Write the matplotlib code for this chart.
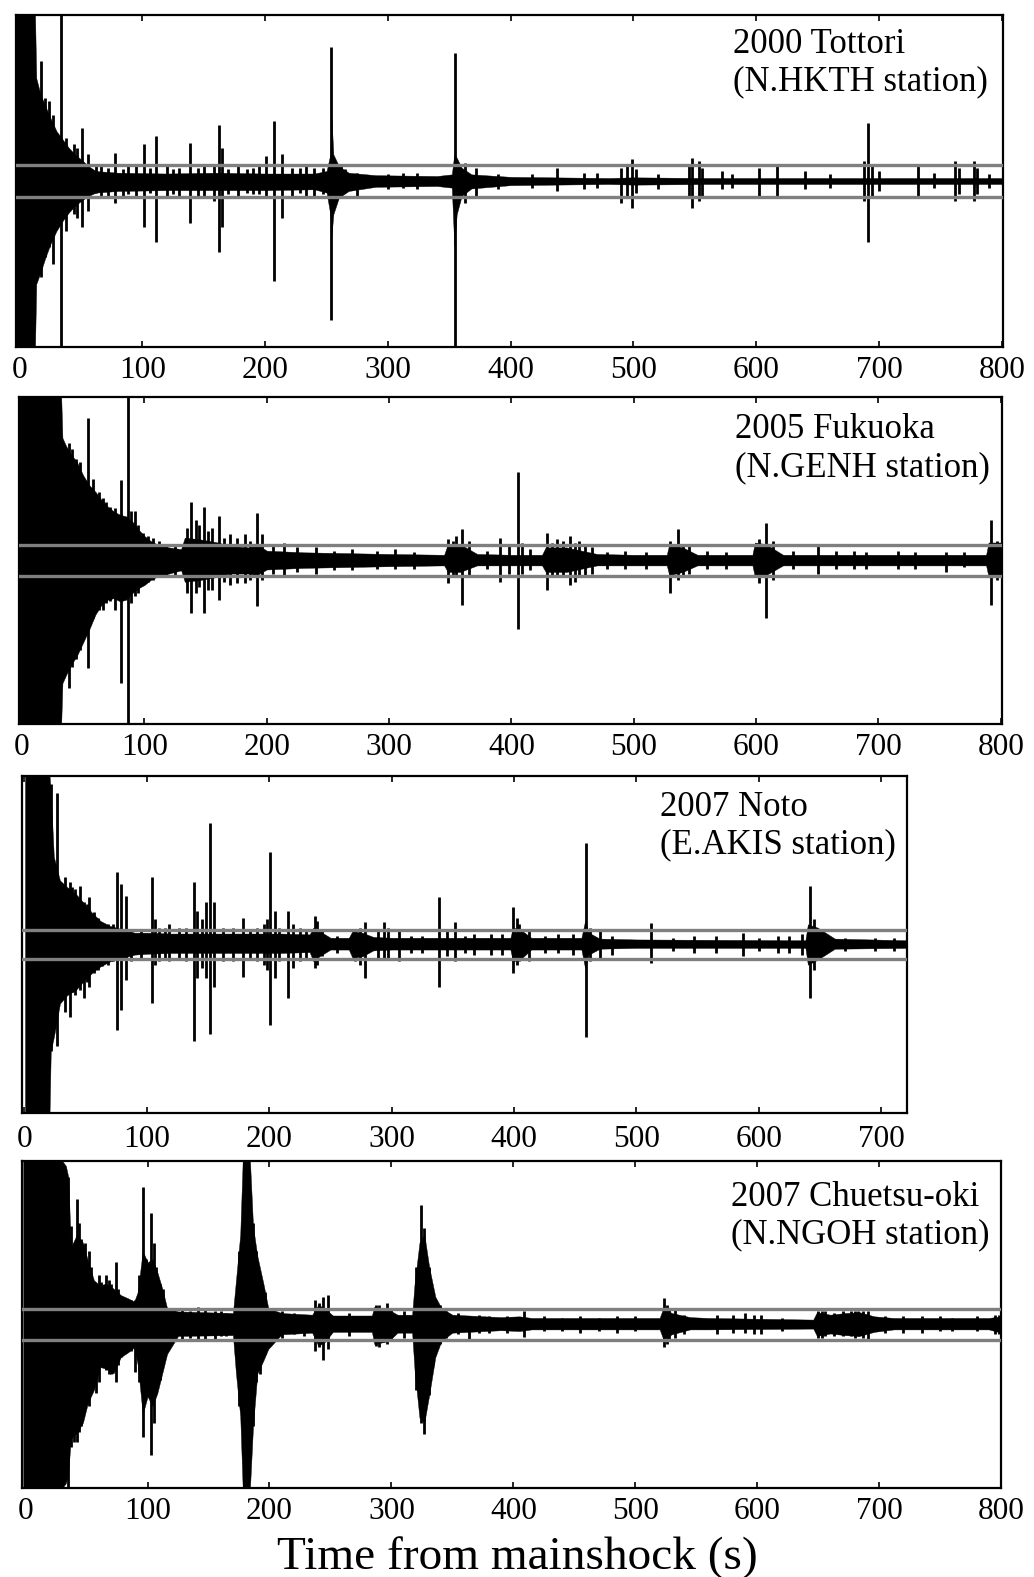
import matplotlib
matplotlib.use('Agg')
import matplotlib.pyplot as plt

plt.rcParams['font.family'] = ['Liberation Serif', 'DejaVu Serif']

# amplitudes are given as a fraction of each panel's half-height

# --- 2000 Tottori (N.HKTH) ---
tottori_env_t = [-3, 12.5, 13.5, 17, 21, 25, 30, 35, 40, 45, 50, 56, 62, 80, 120, 160, 200, 240, 250, 253,
                 254, 255.5, 260, 268, 290, 340, 352, 354, 356, 360, 368, 400, 480, 500, 560, 801]
tottori_env_top = [1, 1, 0.62, 0.52, 0.45, 0.38, 0.3, 0.25, 0.2, 0.16, 0.13, 0.09, 0.06, 0.05, 0.045, 0.05,
                   0.045, 0.045, 0.06, 0.16, 0.38, 0.16, 0.09, 0.05, 0.035, 0.03, 0.04, 0.16, 0.14, 0.08, 0.04,
                   0.025, 0.018, 0.022, 0.018, 0.018]
tottori_env_bot = [-1, -1, -0.62, -0.55, -0.46, -0.38, -0.3, -0.24, -0.19, -0.15, -0.12, -0.09, -0.07, -0.06,
                   -0.055, -0.055, -0.055, -0.05, -0.07, -0.2, -0.33, -0.2, -0.1, -0.06, -0.035, -0.03, -0.04,
                   -0.39, -0.2, -0.09, -0.045, -0.025, -0.018, -0.022, -0.018, -0.018]
tottori_spk_t = [17, 21, 24, 27, 34, 38, 44, 47, 51, 56, 66, 72, 78, 88, 95, 101, 111, 120, 130, 139,
                 150, 158, 162, 165, 178, 190, 201, 207, 214, 222, 233, 247, 254, 258, 262, 275, 312, 324, 355, 363,
                 372, 417, 438, 460, 490, 499, 548, 553, 572, 602, 617, 640, 691, 732, 762, 777,
                 62, 84, 106, 125, 145, 170, 185, 195, 228, 240, 265, 300, 390, 470, 520, 580, 660, 700, 745, 790,
                 495, 502, 545, 556, 688, 694, 765, 780]
tottori_spk_top = [0.72, 0.5, 0.48, 0.4, 1.0, 0.26, 0.22, 0.2, 0.32, 0.16, 0.1, 0.08, 0.17, 0.1, 0.09, 0.22, 0.27,
                   0.09, 0.08, 0.23, 0.1, 0.09, 0.34, 0.2, 0.09, 0.08, 0.15, 0.36, 0.16, 0.08, 0.1, 0.08, 0.81,
                   0.08, 0.09, 0.05, 0.05, 0.05, 0.77, 0.11, 0.08, 0.04, 0.08, 0.05, 0.08, 0.13, 0.14, 0.12, 0.06,
                   0.08, 0.09, 0.06, 0.35, 0.09, 0.12, 0.12,
                   0.09, 0.07, 0.08, 0.07, 0.08, 0.07, 0.07, 0.09, 0.08, 0.08, 0.07, 0.04, 0.04, 0.05, 0.04, 0.04,
                   0.04, 0.06, 0.05, 0.04,
                   0.1, 0.07, 0.09, 0.08, 0.12, 0.1, 0.08, 0.08]
tottori_spk_bot = [-0.58, -0.46, -0.4, -0.5, -1.0, -0.3, -0.2, -0.22, -0.28, -0.18, -0.09, -0.1, -0.13, -0.08,
                   -0.1, -0.28, -0.37, -0.1, -0.09, -0.25, -0.1, -0.12, -0.43, -0.28, -0.1, -0.08, -0.1, -0.6,
                   -0.22, -0.09, -0.1, -0.08, -0.84, -0.1, -0.1, -0.1, -0.04, -0.05, -1.0, -0.13, -0.1, -0.04,
                   -0.06, -0.05, -0.13, -0.16, -0.16, -0.12, -0.05, -0.09, -0.09, -0.05, -0.37, -0.09, -0.12, -0.12,
                   -0.07, -0.09, -0.07, -0.08, -0.09, -0.08, -0.07, -0.08, -0.07, -0.09, -0.06, -0.05, -0.05,
                   -0.04, -0.05, -0.04, -0.04, -0.06, -0.04, -0.04,
                   -0.1, -0.07, -0.1, -0.09, -0.12, -0.1, -0.08, -0.08]

# --- 2005 Fukuoka (N.GENH) ---
fukuoka_env_t = [-3, 32, 33, 36, 40, 45, 50, 55, 60, 65, 70, 75, 80, 85, 90, 95, 100, 105, 110, 120,
                 130, 133, 145, 160, 170, 185, 192, 200, 230, 300, 345, 348, 358, 372, 400, 425, 428, 445, 470, 500,
                 527, 529, 540, 552, 597, 599, 608, 622, 700, 788, 790, 801]
fukuoka_env_top = [1, 1, 0.75, 0.7, 0.65, 0.6, 0.52, 0.46, 0.42, 0.37, 0.33, 0.3, 0.28, 0.27, 0.24, 0.19, 0.15,
                   0.12, 0.1, 0.08, 0.07, 0.14, 0.13, 0.11, 0.09, 0.08, 0.1, 0.06, 0.05, 0.04, 0.035, 0.1, 0.1,
                   0.04, 0.035, 0.035, 0.08, 0.08, 0.04, 0.035, 0.035, 0.1, 0.08, 0.035, 0.035, 0.11, 0.1, 0.035,
                   0.035, 0.035, 0.11, 0.11]
fukuoka_env_bot = [-1, -1, -0.75, -0.7, -0.64, -0.58, -0.5, -0.42, -0.33, -0.27, -0.24, -0.23, -0.25, -0.24,
                   -0.2, -0.17, -0.15, -0.12, -0.1, -0.08, -0.06, -0.13, -0.12, -0.1, -0.08, -0.08, -0.09, -0.055,
                   -0.045, -0.035, -0.03, -0.07, -0.07, -0.03, -0.03, -0.03, -0.07, -0.07, -0.03, -0.03, -0.03,
                   -0.09, -0.07, -0.03, -0.03, -0.1, -0.09, -0.03, -0.03, -0.03, -0.1, -0.1]
fukuoka_spk_t = [38, 44, 54, 58, 66, 72, 81, 86.5, 92, 99, 107, 112, 138, 142, 149, 155, 161, 170, 176, 182,
                 192, 196, 214, 240, 270, 305, 348, 355, 360, 391, 405, 409, 429, 437, 448, 455, 466, 493, 530, 536,
                 545, 608, 614, 651, 680, 716, 755, 792, 797,
                 41, 47, 63, 69, 76, 89, 95, 103, 118, 125, 135, 145, 152, 165, 186, 205, 225, 255, 290, 320,
                 352, 365, 380, 398, 415, 433, 442, 452, 460, 478, 510, 540, 560, 575, 602, 630, 665, 690, 730, 770]
fukuoka_spk_top = [0.72, 0.62, 0.87, 0.5, 0.38, 0.33, 0.49, 1.0, 0.3, 0.17, 0.14, 0.12, 0.36, 0.25, 0.33, 0.2,
                   0.27, 0.16, 0.14, 0.16, 0.29, 0.16, 0.11, 0.08, 0.07, 0.07, 0.13, 0.15, 0.19, 0.14, 0.54, 0.11,
                   0.17, 0.13, 0.15, 0.12, 0.08, 0.06, 0.12, 0.19, 0.1, 0.23, 0.12, 0.09, 0.06, 0.06, 0.05, 0.25,
                   0.12,
                   0.68, 0.6, 0.42, 0.36, 0.32, 0.3, 0.22, 0.15, 0.1, 0.09, 0.2, 0.22, 0.18, 0.14, 0.12, 0.09,
                   0.08, 0.06, 0.06, 0.05, 0.12, 0.12, 0.06, 0.1, 0.07, 0.11, 0.12, 0.11, 0.1, 0.05, 0.05, 0.1,
                   0.06, 0.05, 0.13, 0.06, 0.06, 0.05, 0.05, 0.05]
fukuoka_spk_bot = [-0.78, -0.6, -0.66, -0.35, -0.3, -0.25, -0.75, -1.0, -0.22, -0.15, -0.12, -0.1, -0.32, -0.2,
                   -0.32, -0.18, -0.24, -0.15, -0.14, -0.14, -0.28, -0.12, -0.1, -0.08, -0.06, -0.05, -0.14, -0.1,
                   -0.27, -0.13, -0.42, -0.08, -0.18, -0.1, -0.15, -0.1, -0.08, -0.05, -0.2, -0.12, -0.08, -0.35,
                   -0.12, -0.08, -0.05, -0.05, -0.07, -0.27, -0.12,
                   -0.65, -0.55, -0.3, -0.26, -0.3, -0.26, -0.2, -0.13, -0.1, -0.09, -0.2, -0.16, -0.18, -0.13,
                   -0.12, -0.08, -0.07, -0.06, -0.05, -0.05, -0.1, -0.09, -0.05, -0.08, -0.06, -0.1, -0.09, -0.13,
                   -0.09, -0.05, -0.05, -0.1, -0.05, -0.05, -0.14, -0.05, -0.05, -0.05, -0.05, -0.04]

# --- 2007 Noto (E.AKIS) ---
noto_env_t = [0.5, 20.5, 21.5, 24, 29, 35, 42, 48, 55, 62, 70, 80, 90, 100, 120, 150, 180, 210, 233, 236,
              241, 250, 265, 268, 276, 285, 300, 340, 397, 399, 405, 414, 455, 458, 461, 470, 500, 638, 640, 648,
              662, 721]
noto_env_top = [1, 1, 0.9, 0.52, 0.38, 0.34, 0.3, 0.25, 0.19, 0.14, 0.11, 0.09, 0.07, 0.07, 0.065, 0.065, 0.065,
                0.065, 0.06, 0.1, 0.08, 0.04, 0.04, 0.08, 0.07, 0.045, 0.04, 0.04, 0.04, 0.1, 0.09, 0.04, 0.04,
                0.14, 0.07, 0.035, 0.03, 0.025, 0.12, 0.1, 0.035, 0.025]
noto_env_bot = [-1, -1, -0.63, -0.55, -0.35, -0.3, -0.27, -0.22, -0.17, -0.13, -0.1, -0.08, -0.06, -0.055, -0.05,
                -0.05, -0.05, -0.05, -0.045, -0.1, -0.07, -0.03, -0.03, -0.08, -0.07, -0.035, -0.03, -0.03, -0.03,
                -0.1, -0.09, -0.03, -0.03, -0.14, -0.06, -0.025, -0.02, -0.02, -0.12, -0.09, -0.025, -0.02]
noto_spk_t = [22, 27, 33, 37, 41, 45, 48.5, 53, 57, 63, 68, 75.8, 79, 83, 104.5, 110, 118, 126, 138.5, 141,
              151.6, 155, 170, 178.6, 190, 196, 201, 205, 215, 225, 237, 239, 270, 278, 294, 306, 316, 339, 352,
              367, 381, 390, 399, 402, 412, 436, 448, 459, 470, 512, 547, 587, 616, 635, 642, 645, 695,
              30, 39, 51, 60, 72, 87, 95, 107, 115, 132, 145, 148, 162, 184, 198, 208, 219, 230, 243, 255,
              274, 289, 297, 325, 345, 360, 404, 425, 462, 480, 530, 565, 600, 625, 650, 670, 710]
noto_spk_top = [0.95, 0.9, 0.4, 0.37, 0.33, 0.35, 0.25, 0.28, 0.19, 0.13, 0.12, 0.43, 0.36, 0.29, 0.4, 0.1, 0.12,
                0.1, 0.37, 0.2, 0.72, 0.25, 0.1, 0.16, 0.1, 0.12, 0.55, 0.2, 0.2, 0.1, 0.17, 0.14, 0.09, 0.135,
                0.135, 0.08, 0.05, 0.28, 0.135, 0.06, 0.06, 0.06, 0.22, 0.16, 0.08, 0.06, 0.06, 0.6, 0.08, 0.13,
                0.05, 0.07, 0.05, 0.06, 0.35, 0.15, 0.04,
                0.36, 0.34, 0.24, 0.16, 0.12, 0.09, 0.08, 0.15, 0.1, 0.1, 0.15, 0.25, 0.1, 0.09, 0.15, 0.1, 0.12,
                0.09, 0.08, 0.05, 0.1, 0.08, 0.1, 0.05, 0.08, 0.05, 0.12, 0.05, 0.1, 0.05, 0.04, 0.05, 0.04,
                0.05, 0.08, 0.04, 0.04]
noto_spk_bot = [-0.63, -0.6, -0.4, -0.43, -0.3, -0.27, -0.32, -0.25, -0.17, -0.13, -0.12, -0.51, -0.39, -0.21,
                -0.35, -0.1, -0.1, -0.08, -0.57, -0.2, -0.53, -0.25, -0.1, -0.19, -0.1, -0.12, -0.48, -0.2, -0.32,
                -0.1, -0.14, -0.12, -0.1, -0.2, -0.08, -0.1, -0.05, -0.25, -0.1, -0.06, -0.06, -0.06, -0.17,
                -0.12, -0.1, -0.05, -0.06, -0.55, -0.08, -0.11, -0.05, -0.07, -0.05, -0.06, -0.32, -0.15, -0.04,
                -0.33, -0.28, -0.22, -0.15, -0.1, -0.1, -0.08, -0.12, -0.09, -0.1, -0.14, -0.2, -0.1, -0.08,
                -0.15, -0.1, -0.14, -0.08, -0.07, -0.05, -0.12, -0.08, -0.08, -0.05, -0.07, -0.05, -0.1, -0.05,
                -0.1, -0.06, -0.04, -0.05, -0.04, -0.05, -0.08, -0.04, -0.04]

# --- 2007 Chuetsu-oki (N.NGOH) ---
chuetsu_env_t = [-2, 30, 33, 35, 37, 42, 47, 51, 56, 61, 66, 72, 78, 84, 89, 92, 96, 100, 104, 108,
                 112, 116, 125, 170, 172.5, 176, 178, 184, 186.5, 190, 195, 199, 210, 235, 240, 245, 252, 284, 286,
                 298, 305, 317, 319, 323, 327, 331, 336, 341, 350, 390, 405, 415, 520, 523, 530, 545, 560, 646, 649,
                 660, 672, 684, 696, 712, 790, 800]
chuetsu_env_top = [1, 1, 0.97, 0.9, 0.47, 0.55, 0.5, 0.39, 0.27, 0.24, 0.25, 0.22, 0.18, 0.16, 0.14, 0.2, 0.45,
                   0.38, 0.4, 0.32, 0.22, 0.1, 0.08, 0.07, 0.27, 0.55, 1, 1, 0.6, 0.42, 0.25, 0.1, 0.07, 0.06,
                   0.12, 0.1, 0.055, 0.055, 0.11, 0.09, 0.06, 0.06, 0.25, 0.5, 0.55, 0.35, 0.17, 0.1, 0.06, 0.045,
                   0.05, 0.04, 0.04, 0.1, 0.07, 0.045, 0.04, 0.03, 0.075, 0.06, 0.07, 0.075, 0.05, 0.04, 0.04,
                   0.05]
chuetsu_env_bot = [-1, -1, -0.97, -0.9, -0.7, -0.66, -0.6, -0.48, -0.4, -0.26, -0.27, -0.3, -0.2, -0.17, -0.14,
                   -0.25, -0.55, -0.44, -0.5, -0.42, -0.3, -0.18, -0.07, -0.065, -0.3, -0.56, -1, -1, -0.62,
                   -0.3, -0.22, -0.15, -0.06, -0.05, -0.13, -0.11, -0.045, -0.045, -0.12, -0.1, -0.05, -0.05,
                   -0.28, -0.57, -0.6, -0.43, -0.2, -0.1, -0.05, -0.035, -0.04, -0.03, -0.03, -0.09, -0.06,
                   -0.03, -0.03, -0.025, -0.07, -0.055, -0.065, -0.07, -0.045, -0.03, -0.03, -0.05]
chuetsu_spk_t = [34.5, 40, 42, 45, 49, 54, 58, 62, 65.5, 70, 74, 78, 82, 90, 96, 99, 102.8, 107, 110, 118,
                 128, 141, 147, 155, 164, 179, 182.5, 186.5, 192, 202, 210, 237, 244, 248, 265, 290, 296, 310, 324,
                 327, 331, 345, 364, 380, 409, 440, 470, 500, 523.5, 528, 567, 590, 603, 653, 663, 677, 683, 691,
                 735, 760, 798,
                 37.5, 44, 52, 60, 68, 76, 86, 93, 105, 113, 122, 135, 160, 175, 189, 196, 220, 228, 241, 287,
                 293, 300, 320, 334, 340, 355, 372, 395, 425, 455, 485, 526, 533, 540, 580, 597, 620, 650, 656,
                 670, 680, 687, 705, 720, 750, 780, 795]
chuetsu_spk_top = [0.9, 0.5, 0.77, 0.52, 0.5, 0.35, 0.25, 0.26, 0.3, 0.25, 0.38, 0.16, 0.15, 0.15, 0.84, 0.4,
                   0.68, 0.35, 0.25, 0.1, 0.09, 0.11, 0.09, 0.08, 0.07, 1.0, 1.0, 0.62, 0.3, 0.1, 0.08, 0.15, 0.17,
                   0.18, 0.07, 0.12, 0.13, 0.08, 0.73, 0.59, 0.35, 0.08, 0.05, 0.05, 0.08, 0.04, 0.04, 0.05, 0.16,
                   0.1, 0.06, 0.07, 0.06, 0.08, 0.07, 0.08, 0.08, 0.08, 0.05, 0.04, 0.06,
                   0.6, 0.62, 0.45, 0.3, 0.27, 0.22, 0.15, 0.3, 0.5, 0.22, 0.09, 0.08, 0.08, 0.45, 0.45, 0.2, 0.07,
                   0.06, 0.13, 0.12, 0.1, 0.1, 0.35, 0.2, 0.12, 0.07, 0.06, 0.05, 0.05, 0.05, 0.05, 0.12, 0.09,
                   0.06, 0.06, 0.06, 0.04, 0.085, 0.08, 0.08, 0.085, 0.08, 0.05, 0.05, 0.05, 0.05, 0.06]
chuetsu_spk_bot = [-1.0, -0.72, -0.72, -0.62, -0.48, -0.42, -0.42, -0.25, -0.28, -0.3, -0.35, -0.2, -0.17,
                   -0.29, -0.69, -0.44, -0.8, -0.42, -0.34, -0.12, -0.09, -0.1, -0.09, -0.1, -0.07, -1.0, -1.0,
                   -0.62, -0.3, -0.1, -0.08, -0.16, -0.22, -0.15, -0.07, -0.14, -0.12, -0.08, -0.6, -0.67, -0.43,
                   -0.08, -0.09, -0.05, -0.075, -0.04, -0.04, -0.04, -0.14, -0.09, -0.06, -0.05, -0.06, -0.08,
                   -0.07, -0.07, -0.07, -0.09, -0.05, -0.04, -0.06,
                   -0.75, -0.66, -0.5, -0.35, -0.3, -0.25, -0.16, -0.35, -0.6, -0.25, -0.1, -0.08, -0.07, -0.5,
                   -0.35, -0.18, -0.06, -0.07, -0.14, -0.13, -0.11, -0.1, -0.4, -0.25, -0.12, -0.06, -0.05, -0.05,
                   -0.04, -0.05, -0.05, -0.12, -0.08, -0.06, -0.05, -0.06, -0.04, -0.08, -0.07, -0.07, -0.08,
                   -0.085, -0.05, -0.05, -0.04, -0.04, -0.06]

titles = ['2000 Tottori', '2005 Fukuoka', '2007 Noto', '2007 Chuetsu-oki']
stations = ['(N.HKTH station)', '(N.GENH station)', '(E.AKIS station)', '(N.NGOH station)']
xmax = [800, 800, 700, 800]
thresholds = [0.094, 0.092, 0.087, 0.095]

panels = [
    (tottori_env_t, tottori_env_top, tottori_env_bot, tottori_spk_t, tottori_spk_top, tottori_spk_bot),
    (fukuoka_env_t, fukuoka_env_top, fukuoka_env_bot, fukuoka_spk_t, fukuoka_spk_top, fukuoka_spk_bot),
    (noto_env_t, noto_env_top, noto_env_bot, noto_spk_t, noto_spk_top, noto_spk_bot),
    (chuetsu_env_t, chuetsu_env_top, chuetsu_env_bot, chuetsu_spk_t, chuetsu_spk_top, chuetsu_spk_bot),
]

# layout (pixel boxes: left, right, top, bottom) and x limits
W, H = 1034, 1577
boxes = [(16, 1003, 15, 347), (19, 1002, 397, 724), (22, 907, 776, 1113), (22, 1001, 1161, 1488)]
xlims = [(-3, 801), (-2.5, 801), (-2, 721), (-3, 800)]
label_pad = [6.5, 6.5, 8.5, 6.5]
text_x = [0.7265, 0.728, 0.721, 0.724]
text_y = [(0.886, 0.774), (0.875, 0.758), (0.881, 0.772), (0.862, 0.749)]

fig = plt.figure(figsize=(W / 100, H / 100), dpi=100)

for i, (env_t, env_top, env_bot, spk_t, spk_top, spk_bot) in enumerate(panels):
    l, r, t, b = boxes[i]
    ax = fig.add_axes([l / W, 1 - b / H, (r - l) / W, (b - t) / H])
    ax.fill_between(env_t, env_bot, env_top, color='black', linewidth=0.3)
    ax.vlines(spk_t, spk_bot, spk_top, color='black', linewidth=2.0)
    for thr in (thresholds[i], -thresholds[i]):
        ax.axhline(thr, color='#7f7f7f', linewidth=2.4, zorder=5)
    ax.set_xlim(*xlims[i])
    ax.set_ylim(-1, 1)
    ax.set_xticks(list(range(0, xmax[i] + 1, 100)))
    ax.set_yticks([])
    ax.tick_params(axis='x', direction='in', top=True, length=4, width=1.2, labelsize=22.5, pad=label_pad[i])
    for s in ax.spines.values():
        s.set_linewidth(1.6)
    ax.text(text_x[i], text_y[i][0], titles[i], transform=ax.transAxes, fontsize=25, ha='left', va='baseline')
    ax.text(text_x[i], text_y[i][1], stations[i], transform=ax.transAxes, fontsize=25, ha='left', va='baseline')

fig.text(517 / W, 1 - 1569 / H, 'Time from mainshock (s)', fontsize=34, ha='center', va='baseline')

fig.savefig('out.png', dpi=100)
